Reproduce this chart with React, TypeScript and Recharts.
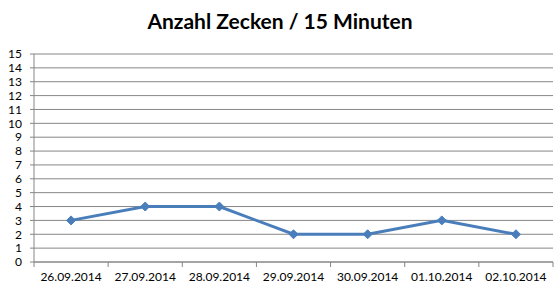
import { LineChart, Line, XAxis, YAxis, CartesianGrid } from "recharts";

const dates = ["26.09.2014", "27.09.2014", "28.09.2014", "29.09.2014", "30.09.2014", "01.10.2014", "02.10.2014"];
const ticks = [3, 4, 4, 2, 2, 3, 2];
const yTicks = [0, 1, 2, 3, 4, 5, 6, 7, 8, 9, 10, 11, 12, 13, 14, 15];

const LINE_COLOR = "#4a7ebb";
const AXIS_COLOR = "#868686";
const FONT = "Lato, 'Open Sans', sans-serif";

const data = dates.map((d, i) => ({ date: d, count: ticks[i] }));

function Diamond(props: any) {
  const { cx, cy } = props;
  if (cx == null || cy == null) return null;
  const r = 4.5;
  return (
    <path
      d={`M${cx},${cy - r} L${cx + r},${cy} L${cx},${cy + r} L${cx - r},${cy} Z`}
      fill={LINE_COLOR}
      stroke={LINE_COLOR}
    />
  );
}

// band width is 519 / 7 -> ticks between categories
const HALF = 519 / 14;

function DateTick(props: any) {
  const { x, y, payload, index } = props;
  return (
    <g>
      <line x1={x - HALF} x2={x - HALF} y1={y - 8} y2={y - 3} stroke={AXIS_COLOR} />
      {index === dates.length - 1 && (
        <line x1={x + HALF} x2={x + HALF} y1={y - 8} y2={y - 3} stroke={AXIS_COLOR} />
      )}
      <text x={x} y={y + 11} textAnchor="middle" fill="#000" fontSize={12} fontFamily={FONT}>
        {payload.value}
      </text>
    </g>
  );
}

export default function App() {
  return (
    <div style={{ position: "absolute", left: 0, top: 0, width: 560, height: 292, background: "#fff" }}>
      <div
        style={{
          position: "absolute",
          top: 8,
          left: 0,
          width: 560,
          textAlign: "center",
          fontFamily: FONT,
          fontWeight: 700,
          fontSize: 21,
          color: "#000",
        }}
      >
        Anzahl Zecken / 15 Minuten
      </div>
      <LineChart width={560} height={292} data={data} margin={{ top: 54, right: 7, bottom: 0, left: 0 }}>
        <CartesianGrid vertical={false} stroke={AXIS_COLOR} strokeWidth={1} />
        <XAxis
          dataKey="date"
          padding={{ left: HALF, right: HALF }}
          axisLine={{ stroke: AXIS_COLOR }}
          tickLine={false}
          tick={<DateTick />}
          interval={0}
          height={30}
        />
        <YAxis
          domain={[0, 15]}
          ticks={yTicks}
          interval={0}
          width={34}
          axisLine={{ stroke: AXIS_COLOR }}
          tickLine={{ stroke: AXIS_COLOR }}
          tickSize={4}
          tickMargin={8}
          tick={{ fill: "#000", fontSize: 12, fontFamily: FONT }}
        />
        <Line
          type="linear"
          dataKey="count"
          stroke={LINE_COLOR}
          strokeWidth={3}
          dot={<Diamond />}
          activeDot={false}
          isAnimationActive={false}
        />
      </LineChart>
    </div>
  );
}
